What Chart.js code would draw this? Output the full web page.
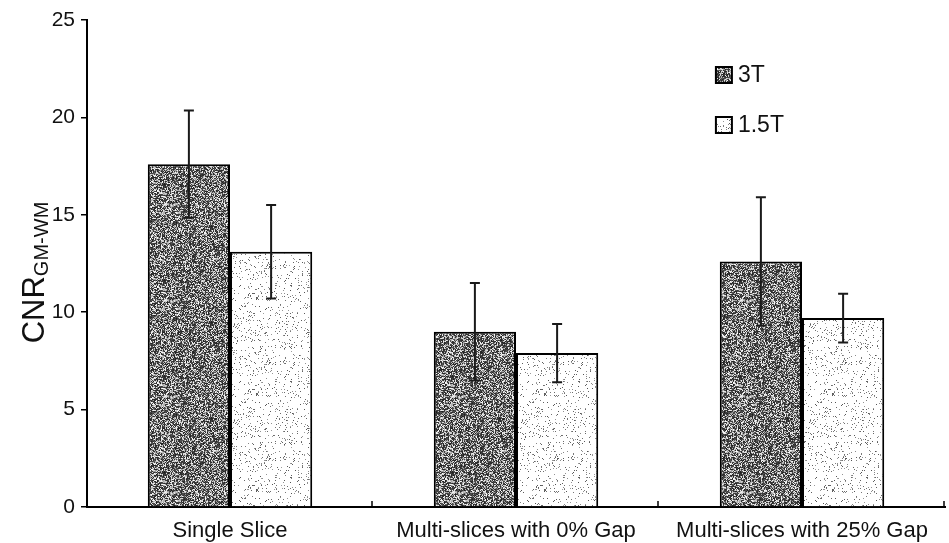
<!DOCTYPE html>
<html>
<head>
<meta charset="utf-8">
<script src="https://cdn.jsdelivr.net/npm/chart.js@4.4.1/dist/chart.umd.min.js"></script>
<style>
  html, body { margin: 0; padding: 0; background: #fff; }
</style>
</head>
<body>
<canvas id="cnrChart" width="949" height="543"></canvas>
<script>
const categories = ["Single Slice", "Multi-slices with 0% Gap", "Multi-slices with 25% Gap"];
const seriesNames = ["3T", "1.5T"];
const cnr3T = [17.6, 9.0, 12.6];
const err3T = [2.75, 2.5, 3.3];
const cnr15T = [13.1, 7.9, 9.7];
const err15T = [2.4, 1.5, 1.25];
const yTicks = [0, 5, 10, 15, 20, 25];

const FONT = "'Liberation Sans', Arial, sans-serif";

// stippled fills like the scanned print
function makeStipple(dark) {
    let c = document.createElement("canvas");
    c.width = 96;
    c.height = 96;
    let g = c.getContext("2d");
    let img = g.createImageData(96, 96);
    let seed = dark ? 12345 : 6789;
    function rnd() {
        seed = (seed * 1103515245 + 12345) % 2147483648;
        return seed / 2147483648;
    }
    for (let i = 0; i < 96 * 96; i++) {
        let v;
        if (dark) {
            let r = rnd();
            v = r < 0.55 ? 30 + rnd() * 60 : 150 + rnd() * 105;
        } else {
            v = rnd() < 0.07 ? 80 + rnd() * 80 : 255;
        }
        img.data[i * 4] = v;
        img.data[i * 4 + 1] = v;
        img.data[i * 4 + 2] = v;
        img.data[i * 4 + 3] = 255;
    }
    g.putImageData(img, 0, 0);
    return document.getElementById("cnrChart").getContext("2d").createPattern(c, "repeat");
}
const darkFill = makeStipple(true);
const lightFill = makeStipple(false);
const errs = [err3T, err15T];

const errorBars = {
    id: "errorBars",
    afterDatasetsDraw(chart) {
        let ctx = chart.ctx;
        let y = chart.scales.y;
        ctx.save();
        ctx.strokeStyle = "#1a1a1a";
        ctx.lineWidth = 2;
        chart.data.datasets.forEach((ds, i) => {
            let meta = chart.getDatasetMeta(i);
            meta.data.forEach((bar, j) => {
                let v = ds.data[j];
                let e = errs[i][j];
                let top = y.getPixelForValue(v + e);
                let bot = y.getPixelForValue(v - e);
                ctx.beginPath();
                ctx.moveTo(bar.x, top);
                ctx.lineTo(bar.x, bot);
                ctx.moveTo(bar.x - 5, top);
                ctx.lineTo(bar.x + 5, top);
                ctx.moveTo(bar.x - 5, bot);
                ctx.lineTo(bar.x + 5, bot);
                ctx.stroke();
            });
        });
        ctx.restore();
    },
    afterDraw(chart) {
        let ctx = chart.ctx;
        let a = chart.chartArea;
        ctx.save();
        // small inward ticks between categories
        ctx.strokeStyle = "#000";
        ctx.lineWidth = 1.5;
        let step = (a.right - a.left) / categories.length;
        for (let i = 1; i <= categories.length; i++) {
            let px = Math.round(a.left + step * i) - 1;
            ctx.beginPath();
            ctx.moveTo(px, a.bottom);
            ctx.lineTo(px, a.bottom - 6);
            ctx.stroke();
        }
        // y title with subscript
        ctx.fillStyle = "#111";
        ctx.textBaseline = "alphabetic";
        ctx.font = "31px " + FONT;
        let w1 = ctx.measureText("CNR").width;
        ctx.font = "20px " + FONT;
        let w2 = ctx.measureText("GM-WM").width;
        ctx.translate(44, (a.top + a.bottom) / 2 + 9);
        ctx.rotate(-Math.PI / 2);
        ctx.font = "31px " + FONT;
        ctx.fillText("CNR", -(w1 + w2) / 2, 0);
        ctx.font = "20px " + FONT;
        ctx.fillText("GM-WM", -(w1 + w2) / 2 + w1, 4);
        ctx.restore();

        // legend
        ctx.save();
        let lx = a.left + (a.right - a.left) * 0.733;
        let fills = [darkFill, lightFill];
        seriesNames.forEach((name, i) => {
            let ly = a.top + 47 + i * 50;
            ctx.fillStyle = fills[i];
            ctx.fillRect(lx, ly, 16, 16);
            ctx.strokeStyle = "#000";
            ctx.lineWidth = 2;
            ctx.strokeRect(lx, ly, 16, 16);
            ctx.fillStyle = "#111";
            ctx.font = "23px " + FONT;
            ctx.textBaseline = "middle";
            ctx.fillText(name, lx + 22, ly + 9);
        });
        ctx.restore();
    },
};

new Chart(document.getElementById("cnrChart"), {
    type: "bar",
    data: {
        labels: categories,
        datasets: [
            {
                label: seriesNames[0],
                data: cnr3T,
                backgroundColor: darkFill,
                borderColor: "#000",
                borderWidth: 2,
            },
            {
                label: seriesNames[1],
                data: cnr15T,
                backgroundColor: lightFill,
                borderColor: "#000",
                borderWidth: 2,
            },
        ],
    },
    options: {
        responsive: false,
        animation: false,
        layout: { padding: { top: 20, right: 4, left: 0, bottom: 0 } },
        datasets: {
            bar: { categoryPercentage: 0.575, barPercentage: 1.0 },
        },
        plugins: {
            legend: { display: false },
            tooltip: { enabled: false },
        },
        scales: {
            x: {
                grid: { display: false },
                border: { display: true, color: "#000", width: 2 },
                ticks: {
                    color: "#111",
                    font: { family: FONT, size: 22 },
                    padding: 3,
                    maxRotation: 0,
                    autoSkip: false,
                },
                afterFit: (s) => { s.height = 36; },
            },
            y: {
                min: 0,
                max: 25,
                afterBuildTicks: (s) => { s.ticks = yTicks.map((v) => ({ value: v })); },
                grid: {
                    display: true,
                    drawOnChartArea: false,
                    tickLength: 6,
                    color: "#000",
                    lineWidth: 1.5,
                },
                border: { display: true, color: "#000", width: 2 },
                ticks: {
                    color: "#111",
                    font: { family: FONT, size: 21 },
                    padding: 6,
                },
                afterFit: (s) => { s.width = 87; },
            },
        },
    },
    plugins: [errorBars],
});
</script>
</body>
</html>
